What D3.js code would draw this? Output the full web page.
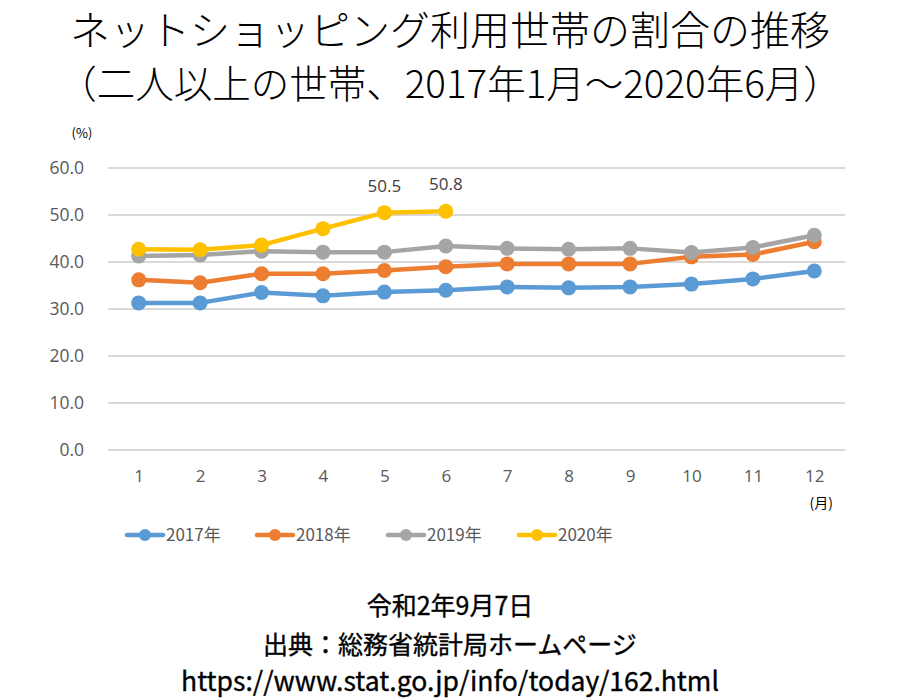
<!DOCTYPE html>
<html><head><meta charset="utf-8">
<script src="https://cdn.jsdelivr.net/npm/d3@7"></script>
<style>
html,body{margin:0;padding:0;background:#fff;}
svg{display:block;}
</style>
</head><body>
<svg id="chart" width="900" height="700"></svg>
<script>
const months = ["1","2","3","4","5","6","7","8","9","10","11","12"];
const yTicks = [0,10,20,30,40,50,60];
const seriesNames = ["2017年","2018年","2019年","2020年"];
const seriesColors = ["#5B9BD5","#ED7D31","#A5A5A5","#FFC000"];
const v2017 = [31.3,31.3,33.5,32.8,33.6,34.0,34.7,34.5,34.7,35.3,36.4,38.1];
const v2018 = [36.2,35.6,37.5,37.5,38.2,39.0,39.6,39.6,39.6,41.1,41.6,44.3];
const v2019 = [41.3,41.5,42.3,42.1,42.1,43.4,42.9,42.7,42.9,42.0,43.1,45.7];
const v2020 = [42.7,42.6,43.6,47.1,50.5,50.8];
const labelled2020 = [4,5];
const titleLines = ["ネットショッピング利用世帯の割合の推移","（二人以上の世帯、2017年1月～2020年6月）"];
const footerLines = ["令和2年9月7日","出典：総務省統計局ホームページ","https://www.stat.go.jp/info/today/162.html"];

const allSeries = [v2017,v2018,v2019,v2020];
const svg = d3.select("#chart");
const pLeft = 108, pRight = 845, pTop = 168, pBottom = 450;
const x = d3.scalePoint().domain(months).range([pLeft,pRight]).padding(0.5);
const y = d3.scaleLinear().domain([0,60]).range([pBottom,pTop]);
const jp = "'Noto Sans CJK JP','Noto Sans',sans-serif";
const lat = "'Open Sans','Noto Sans','Noto Sans CJK JP',sans-serif";

// Title
svg.selectAll("text.title").data(titleLines).enter().append("text")
  .attr("x",450).attr("y",(d,i)=>45+i*53)
  .attr("text-anchor","middle")
  .attr("font-family","'Noto Sans CJK JP',serif")
  .attr("font-weight",300)
  .attr("font-size",(d,i)=>i===0?40:38.5).attr("fill","#000").text(d=>d);

// gridlines
svg.append("g").selectAll("line").data(yTicks).enter().append("line")
  .attr("x1",pLeft).attr("x2",pRight)
  .attr("y1",d=>y(d)).attr("y2",d=>y(d))
  .attr("stroke","#D9D9D9").attr("stroke-width",2);

// y axis labels
const yAxis = d3.axisLeft(y).tickValues(yTicks).tickFormat(d3.format(".1f")).tickSize(0).tickPadding(24);
const ya = svg.append("g").attr("transform",`translate(${pLeft},0)`).call(yAxis);
ya.select(".domain").remove();
ya.selectAll("text").attr("font-family",lat).attr("font-size",17.5).attr("fill","#595959");

// x axis labels
const xAxis = d3.axisBottom(x).tickSize(0).tickPadding(20);
const xa = svg.append("g").attr("transform",`translate(0,${pBottom})`).call(xAxis);
xa.select(".domain").remove();
xa.selectAll("text").attr("font-family",lat).attr("font-size",17).attr("fill","#595959");

svg.append("text").attr("x",82).attr("y",138).attr("text-anchor","middle")
  .attr("font-family",jp).attr("font-size",13).attr("fill","#000").text("(%)");
svg.append("text").attr("x",x("12")+7).attr("y",508).attr("text-anchor","middle")
  .attr("font-family",jp).attr("font-size",14).attr("fill","#000").text("(月)");

// lines
const line = d3.line().x((d,i)=>x(months[i])).y(d=>y(d));
allSeries.forEach((s,k)=>{
  const g = svg.append("g");
  g.append("path").datum(s).attr("d",line).attr("fill","none")
    .attr("stroke",seriesColors[k]).attr("stroke-width",4.5).attr("stroke-linejoin","round");
  g.selectAll("circle").data(s).enter().append("circle")
    .attr("cx",(d,i)=>x(months[i])).attr("cy",d=>y(d)).attr("r",7.5)
    .attr("fill",seriesColors[k]);
});

// data labels
svg.selectAll("text.dl").data(labelled2020).enter().append("text")
  .attr("x",i=>x(months[i])).attr("y",i=>y(v2020[i])-21)
  .attr("text-anchor","middle").attr("font-family",lat).attr("font-size",17)
  .attr("fill","#404040").text(i=>d3.format(".1f")(v2020[i]));

// legend
const legX = [127,257,388,519];
const leg = svg.append("g");
seriesNames.forEach((n,k)=>{
  const g = leg.append("g").attr("transform",`translate(${legX[k]},535)`);
  g.append("line").attr("x1",0).attr("x2",36).attr("y1",0).attr("y2",0)
    .attr("stroke",seriesColors[k]).attr("stroke-width",4.5).attr("stroke-linecap","round");
  g.append("circle").attr("cx",18).attr("cy",0).attr("r",6).attr("fill",seriesColors[k]);
  g.append("text").attr("x",39).attr("y",6).attr("font-family",jp).attr("font-size",17)
    .attr("fill","#595959").text(n);
});

// footer
svg.selectAll("text.ft").data(footerLines).enter().append("text")
  .attr("x",450).attr("y",(d,i)=>[615,654,691][i])
  .attr("text-anchor","middle").attr("font-family",jp).attr("font-weight",400)
  .attr("stroke","#000").attr("stroke-width",0.35)
  .attr("font-size",(d,i)=>i===2?26.5:25).attr("fill","#000").text(d=>d);
</script>
</body></html>
